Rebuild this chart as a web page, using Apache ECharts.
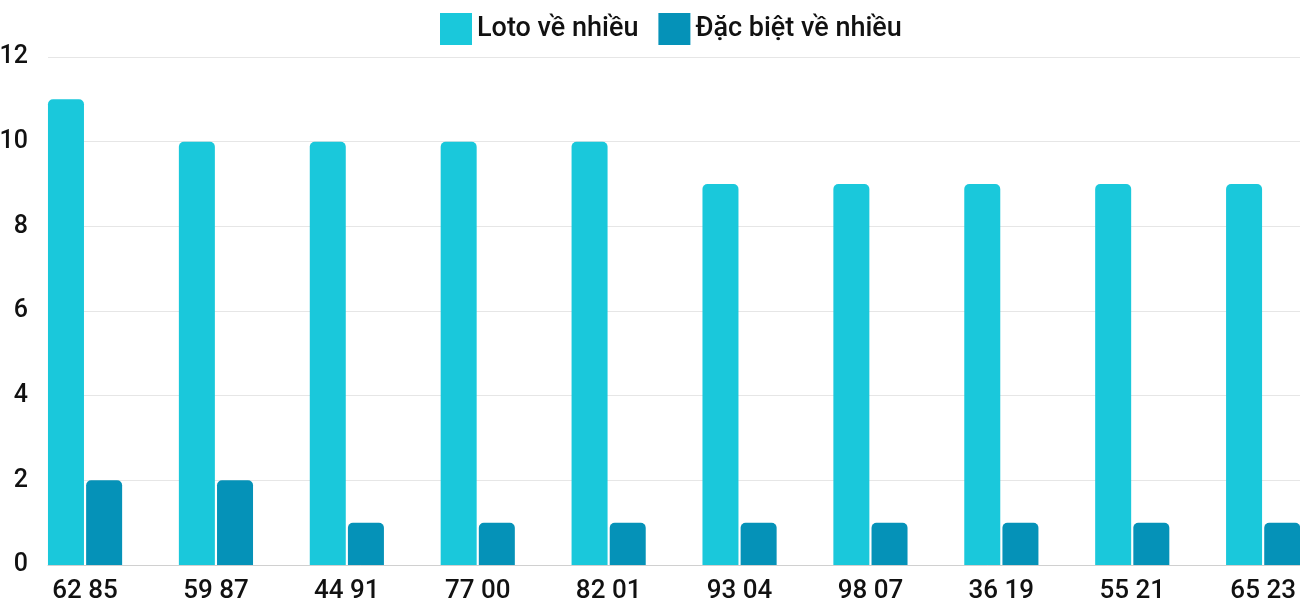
<!DOCTYPE html>
<html>
<head>
<meta charset="utf-8">
<script src="https://cdn.jsdelivr.net/npm/echarts@6/dist/echarts.min.js"></script>
<style>
  html, body { margin: 0; padding: 0; background: #ffffff; overflow: hidden; }
  /* chart area runs a little past the window so the last group sits at the edge */
  #chart { width: 1330px; height: 600px; }
</style>
</head>
<body>
<div id="chart"></div>
<script>
const categories = ["62 85", "59 87", "44 91", "77 00", "82 01", "93 04", "98 07", "36 19", "55 21", "65 23"];
const lotoValues = [11, 10, 10, 10, 10, 9, 9, 9, 9, 9];
const specialValues = [2, 2, 1, 1, 1, 1, 1, 1, 1, 1];
const seriesNames = ["Loto về nhiều", "Đặc biệt về nhiều"];

const chart = echarts.init(document.getElementById("chart"));
const font = "Roboto, 'Noto Sans', sans-serif";

chart.setOption({
  animation: false,
  backgroundColor: "#ffffff",
  textStyle: { fontFamily: font },
  legend: {
    top: 13,
    left: 440,
    padding: 0,
    itemWidth: 32,
    itemHeight: 32,
    itemGap: 20,
    icon: "rect",
    textStyle: { color: "#111111", fontSize: 27, fontWeight: 500, fontFamily: font },
    data: seriesNames,
  },
  grid: [
    // axis grid: labels, split lines, bottom axis line
    { left: 48, right: 30, top: 57, bottom: 35, outerBoundsMode: "none" },
    // bar grid, shifted so the first group sits flush at the axis
    { left: 19.6, right: 1.4, top: 57, bottom: 35, outerBoundsMode: "none" },
  ],
  xAxis: [
    {
      type: "category",
      gridIndex: 0,
      data: categories,
      axisLine: { lineStyle: { color: "#d0d0d0", width: 1 } },
      axisTick: { show: false },
      axisLabel: { show: false },
    },
    {
      type: "category",
      gridIndex: 1,
      data: categories,
      axisLine: { show: false },
      axisTick: { show: false },
      axisLabel: { color: "#111111", fontSize: 26, fontWeight: 500, margin: 13, fontFamily: font },
    },
  ],
  yAxis: [
    {
      type: "value",
      gridIndex: 0,
      min: 0,
      max: 12,
      interval: 2,
      axisLine: { show: false },
      axisTick: { show: false },
      axisLabel: { color: "#111111", fontSize: 25, fontWeight: 500, margin: 20, fontFamily: font },
      splitLine: { lineStyle: { color: "#e6e6e6" } },
    },
    {
      type: "value",
      gridIndex: 1,
      min: 0,
      max: 12,
      interval: 2,
      show: false,
      splitLine: { show: false },
    },
  ],
  series: [
    {
      name: seriesNames[0],
      type: "bar",
      xAxisIndex: 1,
      yAxisIndex: 1,
      data: lotoValues,
      barWidth: 36,
      barGap: "6%",
      itemStyle: { color: "#1ac8db", borderRadius: [5, 5, 0, 0] },
    },
    {
      name: seriesNames[1],
      type: "bar",
      xAxisIndex: 1,
      yAxisIndex: 1,
      data: specialValues,
      barWidth: 36,
      barGap: "6%",
      itemStyle: { color: "#0592b8", borderRadius: [5, 5, 0, 0] },
    },
  ],
});
</script>
</body>
</html>
